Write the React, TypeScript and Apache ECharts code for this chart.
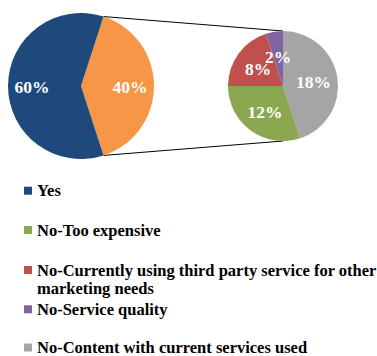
import React, { useEffect, useRef } from "react";
import * as echarts from "echarts";

const legendNames = [
  "Yes",
  "No-Too expensive",
  "No-Currently using third party service for other marketing needs",
  "No-Service quality",
  "No-Content with current services used",
];
const legendLabels = [
  "Yes",
  "No-Too expensive",
  "\nNo-Currently using third party service for other\nmarketing needs",
  "No-Service quality",
  "No-Content with current services used",
];
const legendCenters = [190.7, 230, 270, 309.3, 347.5];

const mainNames = ["No", "Yes"];
const mainValues = [40, 60];
const mainColors = ["#F79646", "#1F497D"];

const subNames = [
  "No-Content with current services used",
  "No-Too expensive",
  "No-Currently using third party service for other marketing needs",
  "No-Service quality",
];
const subValues = [18, 12, 8, 2];
const subColors = ["#A5A5A5", "#8BA850", "#C0504D", "#8064A2"];

const FONT = "Liberation Serif";

export default function App() {
  const ref = useRef<HTMLDivElement>(null);
  useEffect(() => {
    if (!ref.current) return;
    const chart = echarts.init(ref.current, undefined, { renderer: "svg" });

    const lc = [81, 86];
    const lr = 73;
    const rc = [283, 86];
    const rr = 55;
    const mainTotal = mainValues.reduce((s, v) => s + v, 0);
    const subTotal = subValues.reduce((s, v) => s + v, 0);
    const half = (mainValues[0] / mainTotal) * 180;
    const a = (half * Math.PI) / 180;
    const topPt = [lc[0] + lr * Math.cos(a), lc[1] - lr * Math.sin(a)];
    const botPt = [lc[0] + lr * Math.cos(a), lc[1] + lr * Math.sin(a)];

    const pieLabels = (
      values: number[],
      total: number,
      start: number,
      c: number[],
      dist: number
    ) => {
      let acc = start;
      return values.map((v) => {
        const sweep = (v / total) * 360;
        const mid = ((acc - sweep / 2) * Math.PI) / 180;
        acc -= sweep;
        return {
          type: "text",
          x: c[0] + dist * Math.cos(mid),
          y: c[1] - dist * Math.sin(mid) + 1,
          z: 10,
          style: {
            text: v + "%",
            fill: "#fff",
            fontFamily: FONT,
            fontWeight: "bold",
            fontSize: 17.5,
            align: "center",
            verticalAlign: "middle",
          },
        };
      });
    };

    const legends = legendNames.map((n, i) => {
      const lh = 18.5;
      const lines = legendLabels[i].split("\n").length;
      return {
        data: [n],
        orient: "vertical" as const,
        left: 24,
        top: legendCenters[i] - (lh * lines) / 2,
        padding: 0,
        itemWidth: 8,
        itemHeight: 8,
        itemGap: 0,
        icon: "rect",
        selectedMode: false,
        formatter: (name: string) => legendLabels[legendNames.indexOf(name)],
        textStyle: {
          fontFamily: FONT,
          fontWeight: "bold" as const,
          fontSize: 16.5,
          lineHeight: lh,
          color: "#000",
        },
      };
    });

    chart.setOption({
      animation: false,
      legend: legends,
      graphic: [
        {
          type: "line",
          shape: { x1: topPt[0], y1: topPt[1], x2: rc[0], y2: rc[1] - rr },
          style: { stroke: "#000", lineWidth: 1 },
          z: 0,
        },
        {
          type: "line",
          shape: { x1: botPt[0], y1: botPt[1], x2: rc[0], y2: rc[1] + rr },
          style: { stroke: "#000", lineWidth: 1 },
          z: 0,
        },
        ...pieLabels(mainValues, mainTotal, half, lc, lr * 0.67),
        ...pieLabels(subValues, subTotal, 90, rc, rr * 0.56),
      ],
      series: [
        {
          type: "pie",
          center: lc,
          radius: lr,
          startAngle: half,
          clockwise: true,
          silent: true,
          label: { show: false },
          labelLine: { show: false },
          itemStyle: { borderWidth: 0 },
          data: mainNames.map((n, i) => ({
            name: n,
            value: mainValues[i],
            itemStyle: { color: mainColors[i] },
          })),
        },
        {
          type: "pie",
          center: rc,
          radius: rr,
          startAngle: 90,
          clockwise: true,
          silent: true,
          label: { show: false },
          labelLine: { show: false },
          itemStyle: { borderWidth: 0 },
          data: subNames.map((n, i) => ({
            name: n,
            value: subValues[i],
            itemStyle: { color: subColors[i] },
          })),
        },
      ],
    });
    return () => chart.dispose();
  }, []);
  return (
    <div
      ref={ref}
      style={{ position: "absolute", left: 0, top: 0, width: 377, height: 356 }}
    />
  );
}
